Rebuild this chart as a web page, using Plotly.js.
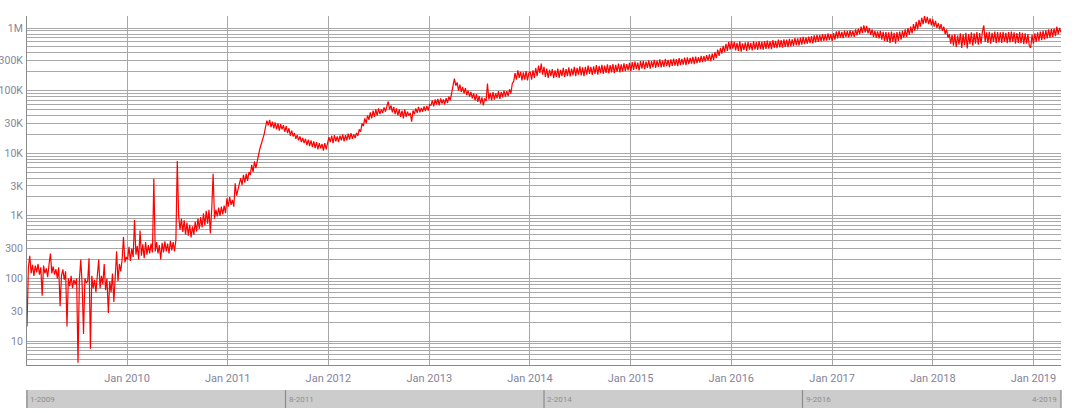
<!DOCTYPE html>
<html>
<head>
<meta charset="utf-8">
<script src="https://cdn.plot.ly/plotly-3.0.1.min.js"></script>
<style>
html,body{margin:0;padding:0;background:#fff;}
#chart{width:1080px;height:413px;}
</style>
</head>
<body>
<div id="chart"></div>
<script>
const startDate = '2009-01-03';
const stepDays = 5;

const v2009 = [17,150,230,120,165,110,160,125,170,115,150,53,160,120,145,105,170,250,120,155,115,140,100,150,36,110,140,95,130,17,100,75,110,70,95,80,100,4.5,95,200,80,13,100,85,90,210,7.5,110,70,95,60,120,200,70,110,80,170,65,100,28,90,60,120,42,110,270,90,170,130,200,460,180,220];
const v2010 = [200,320,190,300,220,860,240,330,200,580,230,350,210,380,240,340,250,360,260,3900,270,380,250,340,200,370,260,390,270,360,250,400,280,380,270,410,7500,1000,600,900,550,850,500,780,480,720,450,680,500,800,560,900,620,950,650,1100,700,1200,750,1250,520,1300,4700,900,1250,980,1350,1000,1400,1050,1450,1100];
const v2011 = [1900,1400,2000,1500,1800,1400,3300,2100,2600,3000,4000,3100,4500,3400,4700,3600,5000,4500,6500,5000,7400,5800,8000,9500,12000,14000,17000,20000,26000,33000,28000,34000,26000,32000,25000,31000,24000,30000,23000,29000,24000,28000,22000,27000,21000,25000,19000,23000,18500,21000,17000,19500,16000,18500,15000,17500,14500,17000,13500,16500,13000,16000,12500,15500,12000,15000,11500,14500,12000,14000,11000,14500,11500,15000];
const v2012 = [18000,15000,19000,14500,19500,15500,18500,15000,19000,16000,20000,15500,19500,16000,20500,16500,21000,17000,20000,17500,21000,19000,24000,22000,30000,27000,36000,30000,40000,34000,45000,36000,48000,38000,50000,40000,52000,42000,50000,44000,54000,46000,58000,67000,50000,58000,45000,55000,42000,52000,40000,50000,38000,48000,36000,50000,38000,46000,40000,44000,32000,48000,42000,52000,44000,55000,45000,53000,46000,56000,47000,57000,48000,60000];
const v2013 = [58000,70000,56000,72000,60000,74000,58000,75000,62000,72000,60000,76000,63000,80000,70000,95000,110000,155000,120000,135000,100000,125000,95000,115000,90000,110000,85000,100000,80000,95000,75000,90000,70000,88000,66000,82000,62000,78000,58000,75000,68000,130000,72000,92000,70000,95000,72000,90000,75000,98000,74000,95000,78000,100000,80000,98000,82000,105000,90000,130000,140000,190000,150000,210000,160000,200000,145000,195000,150000,205000,145000,190000];
const v2014 = [200000,150000,210000,160000,230000,170000,250000,190000,270000,180000,240000,165000,225000,160000,215000,170000,220000,158000,210000,165000,225000,160000,215000,170000,230000,165000,220000,170000,235000,168000,225000,175000,240000,170000,230000,180000,245000,175000,235000,170000,240000,180000,250000,185000,240000,178000,245000,185000,255000,180000,248000,190000,258000,185000,250000,192000,262000,188000,255000,195000,265000,190000,258000,200000,270000,195000,262000,200000,272000,205000,265000,210000,278000,205000];
const v2015 = [285000,215000,290000,220000,280000,210000,295000,225000,300000,220000,290000,230000,305000,225000,295000,235000,310000,230000,300000,240000,315000,235000,305000,240000,320000,245000,310000,238000,315000,248000,325000,250000,318000,245000,330000,255000,322000,260000,335000,255000,340000,265000,332000,270000,345000,265000,350000,275000,342000,280000,360000,285000,355000,290000,370000,300000,380000,295000,390000,310000,410000,330000,450000,360000,480000,390000,520000,410000,560000,430000,600000,450000,620000,470000];
const v2016 = [600000,440000,580000,430000,610000,420000,570000,445000,590000,430000,600000,450000,580000,440000,610000,455000,595000,445000,620000,460000,600000,450000,615000,465000,630000,470000,610000,460000,640000,480000,625000,475000,650000,490000,640000,485000,660000,500000,650000,495000,670000,510000,660000,520000,690000,530000,680000,525000,700000,540000,720000,550000,710000,560000,730000,575000,745000,570000,760000,590000,780000,600000,770000,610000,800000,625000,790000,630000,820000,640000,800000,620000,830000,650000];
const v2017 = [880000,680000,900000,700000,870000,690000,910000,720000,890000,710000,920000,730000,900000,720000,950000,760000,980000,800000,1050000,830000,1100000,850000,1080000,820000,1000000,780000,950000,720000,900000,700000,880000,680000,900000,650000,870000,620000,860000,600000,850000,580000,880000,600000,840000,560000,860000,620000,880000,650000,900000,700000,950000,720000,1000000,780000,1050000,820000,1150000,900000,1250000,950000,1350000,1050000,1450000,1150000,1560000,1200000,1500000,1150000,1420000,1100000,1380000,1050000,1300000,1000000];
const v2018 = [1200000,950000,1150000,900000,1050000,800000,950000,700000,800000,560000,780000,520000,800000,500000,760000,540000,820000,480000,790000,530000,840000,470000,800000,550000,850000,520000,820000,560000,860000,540000,830000,560000,880000,1100000,600000,850000,580000,870000,560000,840000,600000,880000,570000,860000,590000,850000,580000,870000,600000,840000,570000,860000,590000,880000,600000,850000,560000,830000,580000,860000,570000,840000,550000,820000,560000,800000,520000,480000,780000,560000,820000,600000,850000,620000];
const v2019 = [880000,640000,900000,660000,920000,680000,950000,700000,960000,720000,980000,740000,1050000,800000,1000000,850000];

const yTickVals = [10,30,100,300,1000,3000,10000,30000,100000,300000,1000000];
const yTickText = ['10','30','100','300','1K','3K','10K','30K','100K','300K','1M'];
const rangeLabels = ['1-2009','8-2011','2-2014','9-2016','4-2019'];
const xRange = ['2009-01-03','2019-04-11'];

const values = [].concat(v2009,v2010,v2011,v2012,v2013,v2014,v2015,v2016,v2017,v2018,v2019);
const t0 = Date.parse(startDate + 'T00:00:00Z');
const dates = values.map((_, i) => new Date(t0 + i*stepDays*86400000).toISOString().slice(0,10));

// gridlines at every k*10^n, labels only at the listed ticks
const gridVals = [], gridText = [];
for (let e = 0; e <= 6; e++) {
  for (let k = 1; k <= 9; k++) {
    const v = k * Math.pow(10, e);
    if (v > 1000000) break;
    if (v < 4) continue;
    gridVals.push(v);
    const idx = yTickVals.indexOf(v);
    gridText.push(idx >= 0 ? yTickText[idx] : '');
  }
}

const trace = {
  x: dates, y: values, type: 'scatter', mode: 'lines',
  line: {color: '#ff0000', width: 1.2},
  hoverinfo: 'x+y'
};

const barTop = (365-390)/349, barBot = (365-408)/349;
const shapes = [{
  type: 'rect', xref: 'paper', yref: 'paper', x0: -0.001, x1: 1.0, y0: barBot, y1: barTop,
  fillcolor: '#cccccc', line: {width: 0}, layer: 'above'
}];
const annotations = [];
rangeLabels.forEach((lab, i) => {
  const xp = i / (rangeLabels.length - 1);
  shapes.push({type: 'line', xref: 'paper', yref: 'paper', x0: xp, x1: xp, y0: barBot, y1: barTop,
    line: {color: '#8a8a8a', width: 1.2}});
  const last = i === rangeLabels.length - 1;
  annotations.push({xref: 'paper', yref: 'paper', x: xp, y: (barTop+barBot)/2,
    text: lab, showarrow: false, xanchor: last ? 'right' : 'left', yanchor: 'middle',
    xshift: last ? -2 : 1, font: {family: 'Roboto, sans-serif', size: 8, color: '#8c8c8c'}});
});

const layout = {
  width: 1080, height: 413,
  margin: {l: 27, r: 19, t: 16, b: 48, pad: 0},
  paper_bgcolor: '#ffffff', plot_bgcolor: '#ffffff',
  showlegend: false,
  font: {family: 'Roboto, sans-serif', size: 11, color: '#85859a'},
  xaxis: {
    type: 'date', range: xRange, dtick: 'M12', tick0: '2010-01-01', tickformat: '%b %Y',
    showgrid: true, gridcolor: '#a8a8a8', gridwidth: 1,
    showline: true, linecolor: '#8a8a8a', linewidth: 1, ticks: '',
    zeroline: false, automargin: false, ticklabelstandoff: 3,
    tickfont: {family: 'Roboto, sans-serif', size: 11, color: '#85859a'}
  },
  yaxis: {
    type: 'log', range: [0.6166, 6.1917],
    tickmode: 'array', tickvals: gridVals, ticktext: gridText,
    showgrid: true, gridcolor: '#a8a8a8', gridwidth: 1,
    showline: true, linecolor: '#8a8a8a', linewidth: 1, ticks: '',
    zeroline: false, automargin: false, ticklabelstandoff: 1,
    tickfont: {family: 'Roboto, sans-serif', size: 10.5, color: '#85859a'}
  },
  shapes: shapes,
  annotations: annotations
};

Plotly.newPlot('chart', [trace], layout, {displayModeBar: false, staticPlot: true});
</script>
</body>
</html>
